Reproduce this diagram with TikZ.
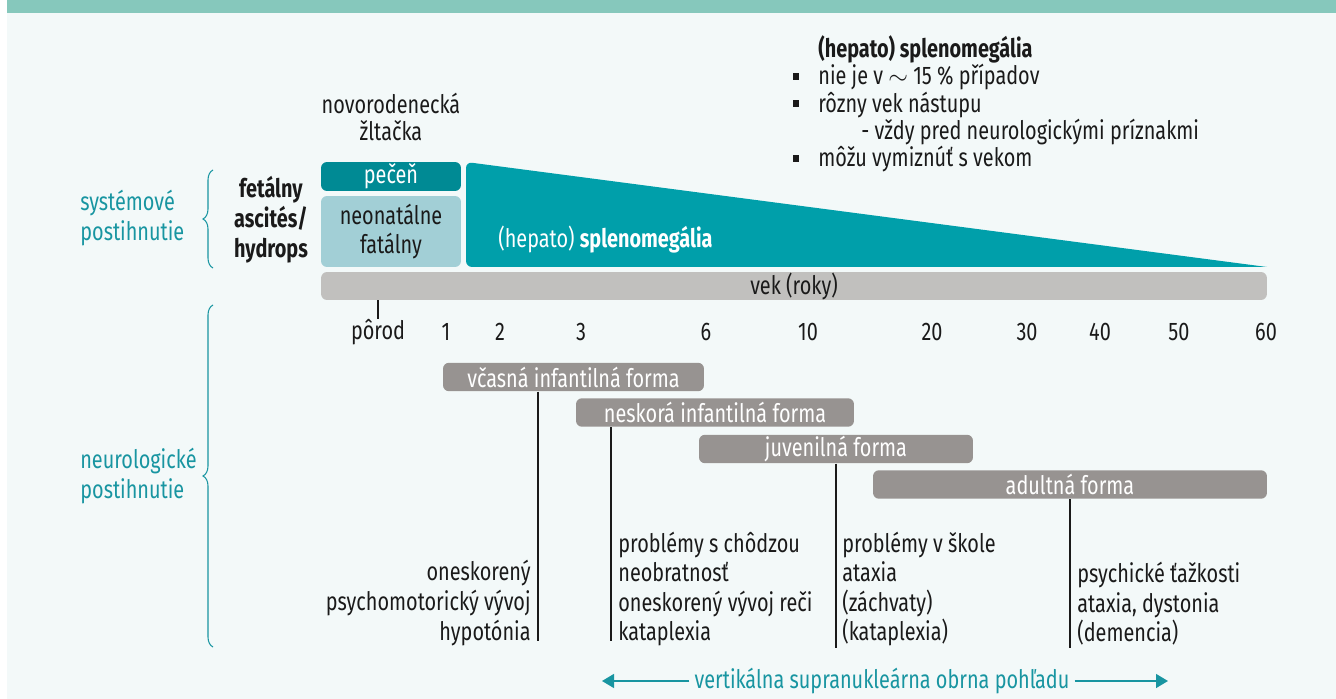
\documentclass[tikz,border=0pt]{standalone}
\usepackage{fontspec}
\setmainfont{Fira Sans}[FakeStretch=0.78]
\usetikzlibrary{arrows.meta,decorations.pathreplacing}

\definecolor{topbar}{HTML}{86C8BC}
\definecolor{paper}{HTML}{F3F9F9}
\definecolor{tealtext}{HTML}{1895A1}
\definecolor{liver}{HTML}{008A94}
\definecolor{neonat}{HTML}{A2CFD6}
\definecolor{spleen}{HTML}{009FAA}
\definecolor{agebar}{HTML}{C1C0BE}
\definecolor{formgray}{HTML}{979391}
\definecolor{ink}{HTML}{1A1A1A}

\newcommand{\sqbul}{\llap{\rule[0.2em]{0.13cm}{0.13cm}\hspace{0.38cm}}}

\tikzset{
  txt/.style={font=\fontsize{14.5}{16.8}\selectfont, text=ink, inner sep=0pt},
  grouplbl/.style={txt, text=tealtext, align=left, anchor=west},
  brace/.style={draw=tealtext, line width=0.6pt, decorate, decoration={brace, amplitude=0.2cm}},
  formbox/.style={txt, fill=formgray, text=white, rounded corners=0.12cm, minimum height=0.57cm},
  stem/.style={draw=ink, line width=0.6pt},
  yearlbl/.style={txt, anchor=center},
  gaze/.style={draw=tealtext, line width=0.85pt, -{Triangle[length=0.24cm, width=0.28cm]}}
}

\begin{document}
\begin{tikzpicture}[x=0.02cm, y=-0.02cm]
\useasboundingbox (0,0) rectangle (1336,699);
\fill[white] (0,0) rectangle (1336,699);
\fill[paper] (7,0) rectangle (1336,699);
\fill[topbar] (7,0) rectangle (1336,13);

% systemove postihnutie
\node[grouplbl, font=\fontsize{14.5}{17}\selectfont] (sysLbl) at (80,218) {systémové\\postihnutie};
\draw[brace] (213,268) -- (213,170);
\node[txt, align=center, font=\bfseries\fontsize{14.5}{17}\selectfont] (fetal) at (271,220) {fetálny\\ascités/\\hydrops};
\node[txt, align=center, font=\fontsize{14.5}{15.8}\selectfont] (jaundice) at (391,117) {novorodenecká\\žltačka};
\node[txt, fill=liver, text=white, rounded corners=0.12cm, minimum width=2.8cm, minimum height=0.58cm] (liverBox) at (391,176.5) {pečeň};
\node[txt, fill=neonat, align=center, rounded corners=0.12cm, minimum width=2.8cm, minimum height=1.42cm] (neoBox) at (391,231.5) {neonatálne\\fatálny};
\fill[spleen] (1267,267) [rounded corners=0.12cm] -- (466,267) -- (466,162) [sharp corners] -- cycle;
\node[txt, text=white, anchor=west] (spleenTxt) at (498,240) {(hepato) \textbf{splenomegália}};

% poznamky k splenomegalii
\node[txt, align=left, anchor=north west, font=\fontsize{14.5}{15.6}\selectfont] (spleenNote) at (818,35)
  {\textbf{(hepato) splenomegália}\\
   \sqbul nie je v $\sim$ 15 \% případov\\
   \sqbul rôzny vek nástupu\\
   \hspace*{0.86cm}- vždy pred neurologickými príznakmi\\
   \sqbul môžu vymiznúť s vekom};

% os veku
\node[txt, fill=agebar, rounded corners=0.12cm, minimum width=18.92cm, minimum height=0.56cm] (ageBar) at (794,286) {vek (roky)};
\node[yearlbl] (birth) at (378,332) {pôrod};
\draw[stem] (ageBar.south -| birth) -- (birth.north);
\node[yearlbl] (y1) at (446,332) {1};
\node[yearlbl] (y2) at (500,332) {2};
\node[yearlbl] (y3) at (581,332) {3};
\node[yearlbl] (y6) at (706,332) {6};
\node[yearlbl] (y10) at (808,332) {10};
\node[yearlbl] (y20) at (932,332) {20};
\node[yearlbl] (y30) at (1027,332) {30};
\node[yearlbl] (y40) at (1100,332) {40};
\node[yearlbl] (y50) at (1179,332) {50};
\node[yearlbl] (y60) at (1266,332) {60};

% neurologicke postihnutie
\node[grouplbl, font=\fontsize{14.5}{17}\selectfont] (neuroLbl) at (80,476) {neurologické\\postihnutie};
\draw[brace] (213,647) -- (213,305);

\node[formbox, minimum width=5.22cm] (early) at (573.5,377) {včasná infantilná forma};
\node[formbox, minimum width=5.56cm] (late) at (715,412.5) {neskorá infantilná forma};
\node[formbox, minimum width=5.48cm] (juv) at (836,449) {juvenilná forma};
\node[formbox, minimum width=7.88cm] (adult) at (1070,484.5) {adultná forma};

\coordinate (earlyEnd) at (538,641);
\coordinate (lateEnd) at (611,641);
\coordinate (juvEnd) at (836,648);
\coordinate (adultEnd) at (1070,648);
\draw[stem] (early.south -| earlyEnd) -- (earlyEnd);
\draw[stem] (late.south -| lateEnd) -- (lateEnd);
\draw[stem] (juv.south -| juvEnd) -- (juvEnd);
\draw[stem] (adult.south -| adultEnd) -- (adultEnd);

\node[txt, align=right, anchor=east] (earlySym) at (531,603) {oneskorený\\psychomotorický vývoj\\hypotónia};
\node[txt, align=left, anchor=west] (lateSym) at (618,589) {problémy s chôdzou\\neobratnosť\\oneskorený vývoj reči\\kataplexia};
\node[txt, align=left, anchor=west] (juvSym) at (842,589) {problémy v škole\\ataxia\\(záchvaty)\\(kataplexia)};
\node[txt, align=left, anchor=west] (adultSym) at (1077,604) {psychické ťažkosti\\ataxia, dystonia\\(demencia)};

% obrna pohladu
\node[txt, text=tealtext, inner xsep=0.1cm] (gazeTxt) at (882,681) {vertikálna supranukleárna obrna pohľadu};
\coordinate (gazeL) at (602,681);
\coordinate (gazeR) at (1168,681);
\draw[gaze] (gazeTxt.west) -- (gazeL);
\draw[gaze] (gazeTxt.east) -- (gazeR);
\end{tikzpicture}
\end{document}
